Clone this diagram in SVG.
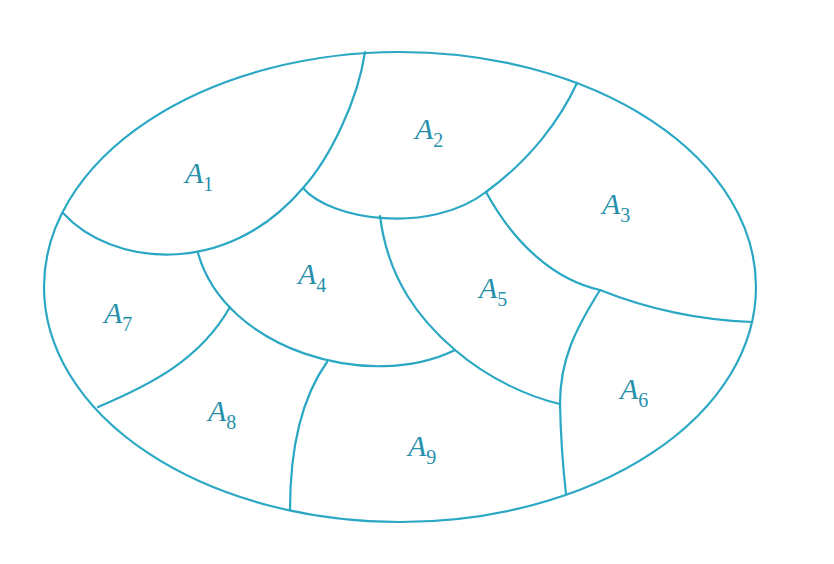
<svg xmlns="http://www.w3.org/2000/svg" width="834" height="564" viewBox="0 0 834 564">
<style>
.ln{fill:none;stroke:#2aa7c3;stroke-width:2.2;stroke-linecap:round}
.lb{font-family:"Liberation Serif","DejaVu Serif",serif;font-style:italic;font-size:30px;fill:#2790ab}
.sb{font-style:normal;font-size:20px}
</style>
<rect width="834" height="564" fill="#ffffff"/>
<g id="connectors">
<ellipse class="ln" cx="400" cy="287" rx="356" ry="235"/>
<path class="ln" d="M63,213 C110,265 225,280 303,188 C330,158 358,100 365,52"/>
<path class="ln" d="M303,188 C330,220 430,235 486,192 C530,160 560,120 577,83"/>
<path class="ln" d="M486,192 C515,245 555,280 600,290 C650,310 700,320 752,322"/>
<path class="ln" d="M600,290 C575,330 560,360 560,404 Q561,450 566,494"/>
<path class="ln" d="M380,216 C388,280 420,320 455,350 C490,380 530,397 560,404"/>
<path class="ln" d="M198,253 C225,350 370,392 455,350"/>
<path class="ln" d="M230,307 C200,360 150,385 98,407"/>
<path class="ln" d="M327,362 C300,400 290,450 290,510"/>
</g>
<g id="A1"><text class="lb" x="185" y="183">A<tspan class="sb" dy="8">1</tspan></text></g>
<g id="A2"><text class="lb" x="415" y="139">A<tspan class="sb" dy="8">2</tspan></text></g>
<g id="A3"><text class="lb" x="602" y="214">A<tspan class="sb" dy="8">3</tspan></text></g>
<g id="A4"><text class="lb" x="298" y="284">A<tspan class="sb" dy="8">4</tspan></text></g>
<g id="A5"><text class="lb" x="479" y="298">A<tspan class="sb" dy="8">5</tspan></text></g>
<g id="A6"><text class="lb" x="620" y="399">A<tspan class="sb" dy="8">6</tspan></text></g>
<g id="A7"><text class="lb" x="104" y="323">A<tspan class="sb" dy="8">7</tspan></text></g>
<g id="A8"><text class="lb" x="208" y="421">A<tspan class="sb" dy="8">8</tspan></text></g>
<g id="A9"><text class="lb" x="408" y="456">A<tspan class="sb" dy="8">9</tspan></text></g>
</svg>
